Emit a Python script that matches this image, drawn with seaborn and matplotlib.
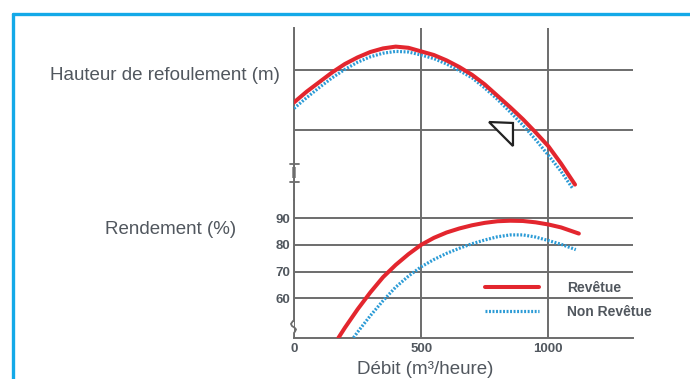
import matplotlib
matplotlib.use("Agg")
import matplotlib.pyplot as plt
from matplotlib.patches import Polygon, Rectangle
from matplotlib.lines import Line2D
import seaborn as sns

# Pump curves: discharge head and efficiency versus flow rate
flow_head_rev = [0, 50, 100, 150, 200, 250, 300, 350, 400, 450, 500, 550, 600, 650,
                 700, 750, 800, 850, 900, 950, 1000, 1050, 1105]
head_rev = [34.6, 36.4, 38.0, 39.6, 41.0, 42.1, 43.0, 43.6, 43.9, 43.7, 43.1, 42.5,
            41.6, 40.5, 39.2, 37.6, 35.7, 33.8, 31.8, 29.6, 27.3, 24.4, 20.9]

flow_head_nonrev = [0, 50, 100, 150, 200, 250, 300, 350, 400, 450, 500, 550, 600, 650,
                    700, 750, 800, 850, 900, 950, 1000, 1050, 1095]
head_nonrev = [33.6, 35.4, 37.1, 38.7, 40.1, 41.3, 42.2, 42.8, 43.1, 43.0, 42.5, 41.9,
               41.0, 39.9, 38.7, 37.0, 35.1, 33.0, 30.8, 28.4, 25.8, 23.1, 20.3]

flow_eff_rev = [175, 200, 250, 300, 350, 400, 450, 500, 550, 600, 650, 700, 750,
                800, 850, 900, 950, 1000, 1050, 1120]
eff_rev = [45.3, 49.0, 55.9, 62.2, 67.9, 72.5, 76.5, 80.0, 82.6, 84.6, 86.1, 87.3,
           88.2, 88.8, 89.0, 88.9, 88.4, 87.6, 86.5, 84.2]

flow_eff_nonrev = [234, 250, 300, 350, 400, 450, 500, 550, 600, 650, 700, 750,
                   800, 850, 900, 950, 1000, 1050, 1108]
eff_nonrev = [45.3, 47.4, 53.5, 59.1, 64.2, 68.3, 71.8, 74.5, 76.8, 78.7, 80.4, 81.8,
              83.0, 83.7, 83.7, 82.9, 81.6, 80.2, 78.2]

series_labels = ["Revêtue", "Non Revêtue"]
x_ticks = [0, 500, 1000]
x_tick_labels = ["0", "500", "1000"]
head_grid = [30, 40]
eff_ticks = [60, 70, 80, 90]
eff_tick_labels = ["60", "70", "80", "90"]

RED = "#e3262e"
BLUE = "#2b9bd6"
GRID = "#6c6c6c"
TEXT = "#51575e"
FRAME = "#13a9e8"

sns.set_theme(style="white")
plt.rcParams["font.family"] = ["Liberation Sans", "DejaVu Sans"]

fig = plt.figure(figsize=(6.9, 3.79), dpi=100)
fig.patch.set_facecolor("white")

ax_top = fig.add_axes([0.4261, 0.4723, 0.4913, 0.4538])
ax_bot = fig.add_axes([0.4261, 0.1090, 0.4913, 0.3633])

dotted = (0, (0.6, 0.5))

# Head curves
sns.lineplot(x=flow_head_nonrev, y=head_nonrev, ax=ax_top, color=BLUE, lw=2.3,
             linestyle=dotted, zorder=3)
sns.lineplot(x=flow_head_rev, y=head_rev, ax=ax_top, color=RED, lw=2.9, zorder=4)

# Efficiency curves
sns.lineplot(x=flow_eff_rev, y=eff_rev, ax=ax_bot, color=RED, lw=2.9, zorder=4,
             label=series_labels[0])
sns.lineplot(x=flow_eff_nonrev, y=eff_nonrev, ax=ax_bot, color=BLUE, lw=2.3,
             linestyle=dotted, zorder=3, label=series_labels[1])

for ax in (ax_top, ax_bot):
    ax.set_xlim(0, 1333)
    ax.set_xticks(x_ticks)
    ax.set_facecolor("none")
    ax.grid(True, color=GRID, lw=1.4)
    ax.set_axisbelow(True)
    for side in ("top", "right"):
        ax.spines[side].set_visible(False)
    ax.spines["left"].set_color(GRID)
    ax.spines["left"].set_linewidth(1.4)
    ax.tick_params(length=0)
    ax.set_xlabel("")
    ax.set_ylabel("")

ax_top.set_ylim(18.33, 47.0)
ax_top.set_yticks(head_grid)
ax_top.set_yticklabels([])
ax_top.set_xticklabels([])
ax_top.spines["bottom"].set_visible(False)

ax_bot.set_ylim(45.3, 96.74)
ax_bot.set_yticks(eff_ticks)
ax_bot.set_yticklabels(eff_tick_labels)
ax_bot.set_xticklabels(x_tick_labels)
ax_bot.spines["bottom"].set_color(GRID)
ax_bot.spines["bottom"].set_linewidth(1.4)
ax_bot.spines["left"].set_bounds(51.6, 96.74)

for lab in ax_bot.get_yticklabels() + ax_bot.get_xticklabels():
    lab.set_fontfamily(["Liberation Sans Narrow", "Liberation Sans", "DejaVu Sans"])
    lab.set_fontweight("bold")
    lab.set_fontsize(9.5)
    lab.set_color(TEXT)
ax_bot.tick_params(axis="y", pad=3)
ax_bot.tick_params(axis="x", pad=4)

# Axis break marks on the vertical axis
brk = ax_top.transAxes
for yb in (0.209, 0.105):
    ax_top.add_line(Line2D([-0.013, 0.016], [yb, yb], transform=brk, color=GRID,
                           lw=1.3, clip_on=False))
ax_top.add_patch(Rectangle((-0.006, 0.125), 0.012, 0.064, transform=brk,
                           facecolor="#9a9a9a", edgecolor="none", clip_on=False))

# Small squiggle near the bottom of the efficiency axis
sq = ax_bot.transAxes
ax_bot.add_line(Line2D([0.0, -0.004, -0.009, -0.006, 0.002, 0.006, 0.003, 0.0, 0.0],
                       [0.128, 0.118, 0.100, 0.085, 0.072, 0.060, 0.045, 0.035, 0.0],
                       transform=sq, color=GRID, lw=1.3, clip_on=False))

# Marker triangle on the head curve
tri = Polygon([[767, 31.33], [861, 31.17], [861, 27.33]], closed=True,
              facecolor="white", edgecolor="#222222", lw=1.6, zorder=2)
ax_top.add_patch(tri)

leg = ax_bot.legend(loc="upper left", bbox_to_anchor=(0.563, 0.41), frameon=False,
                    handlelength=3.9, handletextpad=2.0, labelspacing=0.7,
                    borderpad=0, borderaxespad=0,
                    prop=dict(family=["Liberation Sans Narrow", "Liberation Sans"],
                              weight="bold", size=10))
for t in leg.get_texts():
    t.set_color(TEXT)

big = dict(family=["Liberation Sans", "DejaVu Sans"], size=13.5, color=TEXT)
fig.text(50 / 690, 1 - 76 / 379, "Hauteur de refoulement (m)", ha="left",
         va="center", **big)
fig.text(105 / 690, 1 - 230 / 379, "Rendement (%)", ha="left", va="center", **big)
fig.text(425 / 690, 1 - 370 / 379, "Débit (m³/heure)", ha="center", va="center", **big)

# Blue frame around the figure
fig.add_artist(Line2D([12.5 / 690, 12.5 / 690], [-0.05, 1 - 13.5 / 379],
                      transform=fig.transFigure, color=FRAME, lw=2.4))
fig.add_artist(Line2D([12.5 / 690, 1.05], [1 - 13.5 / 379, 1 - 13.5 / 379],
                      transform=fig.transFigure, color=FRAME, lw=2.4))

fig.savefig("out.png", dpi=100)
